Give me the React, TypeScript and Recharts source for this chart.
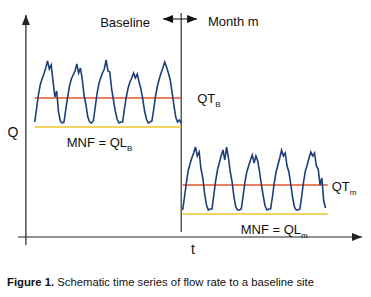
import { LineChart, Line, XAxis, YAxis, ReferenceLine } from 'recharts';

// sampling of the schematic series: 16 readings per day
const stepsPerDay = 16;
const baselineStart = 0.3;
const monthStart = 5.35;
const splitTime = 5.3;
const baselineEnd = 5.3;
const monthEnd = 10.3;

// flow rate Q, baseline period (5 days)
const baselineFlow = [
  11.5, 12.8, 14.2, 15.2, 15.8, 16.3, 16.9, 17.6, 16.8, 17.2, 15.6, 14.0, 14.6, 12.5, 11.6, 11.4,
  11.5, 12.8, 14.0, 15.1, 15.8, 16.2, 16.6, 17.3, 16.4, 16.9, 15.7, 14.1, 13.2, 12.0, 11.5, 11.4,
  11.6, 12.9, 14.3, 15.3, 15.9, 16.4, 16.8, 17.7, 16.6, 16.5, 14.8, 13.7, 12.6, 11.8, 11.4, 11.5,
  11.5, 12.8, 14.0, 14.9, 15.5, 15.9, 16.4, 15.9, 16.3, 15.5, 14.8, 13.8, 12.6, 11.8, 11.4, 11.5,
  11.6, 12.8, 14.1, 15.1, 15.8, 16.4, 16.9, 17.5, 17.0, 16.4, 15.7, 14.5, 13.2, 12.0, 11.5, 11.7,
  11.4,
];

// flow rate Q, month m (5 days)
const monthFlow = [
  2.7, 4.0, 5.4, 6.6, 7.3, 7.9, 8.4, 9.0, 8.1, 8.5, 6.8, 5.9, 4.3, 3.2, 2.7, 2.8,
  2.8, 4.2, 5.6, 6.7, 7.4, 8.1, 8.7, 7.7, 9.0, 7.9, 6.5, 5.5, 4.0, 3.0, 2.7, 2.7,
  2.8, 4.1, 5.5, 6.5, 7.1, 7.7, 8.2, 7.4, 8.1, 7.6, 6.5, 5.2, 4.1, 3.1, 2.7, 2.8,
  2.8, 4.0, 5.4, 6.5, 7.2, 7.9, 8.7, 8.1, 8.4, 7.1, 6.5, 5.3, 4.0, 3.0, 2.7, 2.7,
  2.8, 4.1, 5.5, 6.6, 7.2, 7.9, 8.5, 8.1, 8.4, 7.1, 6.8, 5.2, 5.9, 3.6, 2.9,
];

const qtBaseline = 13.9;
const qlBaseline = 11.0;
const qtMonth = 5.2;
const qlMonth = 2.3;

const baselineData = baselineFlow.map((q, i) => ({ t: baselineStart + i / stepsPerDay, q }));
const monthData = monthFlow.map((q, i) => ({ t: monthStart + i / stepsPerDay, q }));

const font = 'Liberation Sans, Arial, sans-serif';

type Tag = {
  text: string;
  sub?: string;
  at: 'start' | 'end' | 'mid';
  dx: number;
  dy: number;
  anchor?: 'start' | 'middle' | 'end';
  size?: number;
};

function segment(color: string, width: number, heads: 0 | 1 | 2, tags: Tag[] = []) {
  return (p: any) => {
    const { x1, y1, x2, y2 } = p;
    const len = Math.hypot(x2 - x1, y2 - y1) || 1;
    const ux = (x2 - x1) / len;
    const uy = (y2 - y1) / len;
    const head = (tx: number, ty: number, dx: number, dy: number) => {
      const L = 10;
      const W = 4;
      const bx = tx - dx * L;
      const by = ty - dy * L;
      return `${tx},${ty} ${bx - dy * W},${by + dx * W} ${bx + dy * W},${by - dx * W}`;
    };
    return (
      <g>
        <line x1={x1} y1={y1} x2={x2} y2={y2} stroke={color} strokeWidth={width} />
        {heads >= 1 && <polygon points={head(x2, y2, ux, uy)} fill={color} />}
        {heads === 2 && <polygon points={head(x1, y1, -ux, -uy)} fill={color} />}
        {tags.map((tg, i) => {
          const bx = tg.at === 'start' ? x1 : tg.at === 'end' ? x2 : (x1 + x2) / 2;
          const by = tg.at === 'start' ? y1 : tg.at === 'end' ? y2 : (y1 + y2) / 2;
          return (
            <text
              key={i}
              x={bx + tg.dx}
              y={by + tg.dy}
              textAnchor={tg.anchor ?? 'start'}
              fontFamily={font}
              fontSize={tg.size ?? 13}
              fill="#111"
            >
              <tspan>{tg.text}</tspan>
              {tg.sub && (
                <tspan fontSize={8} dy={4}>
                  {tg.sub}
                </tspan>
              )}
            </text>
          );
        })}
      </g>
    );
  };
}

export default function App() {
  return (
    <div style={{ position: 'absolute', left: 0, top: 0, width: 371, height: 297, background: '#fff' }}>
      <LineChart
        width={371}
        height={297}
        margin={{ top: 12, right: 9, bottom: 52, left: 18 }}
      >
        <XAxis type="number" dataKey="t" domain={[-0.27, 11.47]} allowDataOverflow hide />
        <YAxis type="number" dataKey="q" domain={[-0.8, 22.5]} allowDataOverflow hide />

        {/* axes */}
        <ReferenceLine
          segment={[{ x: 0, y: -0.8 }, { x: 0, y: 22.2 }]}
          ifOverflow="visible"
          shape={segment('#222', 1.2, 1, [{ text: 'Q', at: 'mid', dx: -13, dy: 7, anchor: 'middle', size: 14 }])}
        />
        <ReferenceLine
          segment={[{ x: -0.27, y: 0 }, { x: 11.47, y: 0 }]}
          ifOverflow="visible"
          shape={segment('#222', 1.2, 1, [{ text: 't', at: 'mid', dx: 3, dy: 17, anchor: 'middle', size: 14 }])}
        />

        {/* split between periods */}
        <ReferenceLine
          segment={[{ x: splitTime, y: 0.5 }, { x: splitTime, y: 22.4 }]}
          ifOverflow="visible"
          shape={segment('#333', 1.2, 0)}
        />
        <ReferenceLine
          segment={[{ x: 4.68, y: 21.8 }, { x: 5.84, y: 21.8 }]}
          ifOverflow="visible"
          shape={segment('#111', 1.2, 2, [
            { text: 'Baseline', at: 'start', dx: -13, dy: 8, anchor: 'end' },
            { text: 'Month m', at: 'end', dx: 11, dy: 7 },
          ])}
        />

        {/* levels */}
        <ReferenceLine
          segment={[{ x: baselineStart, y: qtBaseline }, { x: baselineEnd, y: qtBaseline }]}
          ifOverflow="visible"
          shape={segment('#e2572b', 1.3, 0, [{ text: 'QT', sub: 'B', at: 'end', dx: 16, dy: 5 }])}
        />
        <ReferenceLine
          segment={[{ x: baselineStart, y: qlBaseline }, { x: baselineEnd, y: qlBaseline }]}
          ifOverflow="visible"
          shape={segment('#f0c330', 1.5, 0, [{ text: 'MNF = QL', sub: 'B', at: 'start', dx: 32, dy: 20 }])}
        />
        <ReferenceLine
          segment={[{ x: monthStart, y: qtMonth }, { x: monthEnd, y: qtMonth }]}
          ifOverflow="visible"
          shape={segment('#e2572b', 1.3, 0, [{ text: 'QT', sub: 'm', at: 'end', dx: 4, dy: 6 }])}
        />
        <ReferenceLine
          segment={[{ x: monthStart, y: qlMonth }, { x: monthEnd, y: qlMonth }]}
          ifOverflow="visible"
          shape={segment('#f0c330', 1.5, 0, [{ text: 'MNF = QL', sub: 'm', at: 'start', dx: 58, dy: 20 }])}
        />

        <Line
          data={baselineData}
          dataKey="q"
          type="linear"
          stroke="#1c3f78"
          strokeWidth={1.6}
          dot={false}
          isAnimationActive={false}
        />
        <Line
          data={monthData}
          dataKey="q"
          type="linear"
          stroke="#1c3f78"
          strokeWidth={1.6}
          dot={false}
          isAnimationActive={false}
        />
      </LineChart>
      <div
        style={{
          position: 'absolute',
          left: 7,
          top: 276,
          fontFamily: font,
          fontSize: 11.3,
          color: '#111',
          whiteSpace: 'nowrap',
        }}
      >
        <b>Figure 1.</b> Schematic time series of flow rate to a baseline site
      </div>
    </div>
  );
}
